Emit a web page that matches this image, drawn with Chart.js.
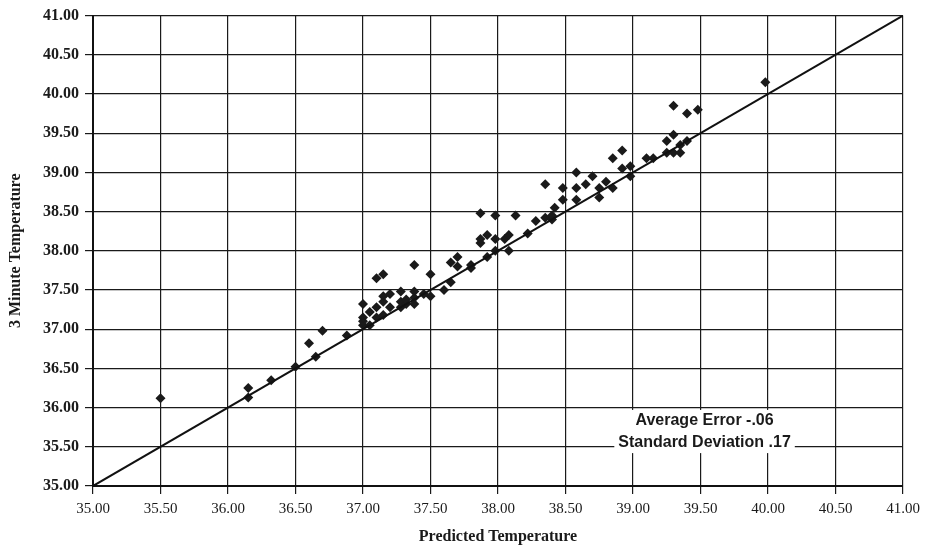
<!DOCTYPE html>
<html>
<head>
<meta charset="utf-8">
<script src="https://cdn.jsdelivr.net/npm/chart.js@4.4.0/dist/chart.umd.min.js"></script>
<style>
  html, body { margin: 0; padding: 0; background: #fff; }
  #wrap { width: 931px; height: 548px; }
</style>
</head>
<body>
<div id="wrap"><canvas id="c" width="931" height="548"></canvas></div>
<script>
const predicted = [
  35.50, 36.15, 36.15, 36.32, 36.50, 36.60, 36.65, 36.70, 36.88,
  37.00, 37.00, 37.00, 37.00, 37.05, 37.05, 37.10, 37.10, 37.10,
  37.15, 37.15, 37.15, 37.15, 37.20, 37.20, 37.28, 37.28, 37.28,
  37.32, 37.32, 37.38, 37.38, 37.38, 37.38, 37.45, 37.50, 37.50,
  37.60, 37.65, 37.65, 37.70, 37.70, 37.80, 37.80, 37.87, 37.87,
  37.87, 37.92, 37.92, 37.98, 37.98, 37.98, 38.05, 38.08, 38.08,
  38.13, 38.22, 38.28, 38.35, 38.35, 38.40, 38.40, 38.42, 38.48,
  38.48, 38.58, 38.58, 38.58, 38.65, 38.70, 38.75, 38.75, 38.80,
  38.85, 38.85, 38.92, 38.92, 38.98, 38.98, 39.10, 39.15, 39.25,
  39.25, 39.30, 39.30, 39.30, 39.35, 39.35, 39.40, 39.40, 39.48,
  39.98
];
const measured = [
  36.12, 36.13, 36.25, 36.35, 36.52, 36.82, 36.65, 36.98, 36.92,
  37.05, 37.10, 37.15, 37.32, 37.05, 37.22, 37.15, 37.28, 37.65,
  37.18, 37.35, 37.42, 37.70, 37.28, 37.45, 37.28, 37.35, 37.48,
  37.32, 37.38, 37.32, 37.40, 37.48, 37.82, 37.45, 37.42, 37.70,
  37.50, 37.60, 37.85, 37.80, 37.92, 37.78, 37.82, 38.10, 38.15,
  38.48, 37.92, 38.20, 38.00, 38.15, 38.45, 38.15, 38.00, 38.20,
  38.45, 38.22, 38.38, 38.42, 38.85, 38.40, 38.45, 38.55, 38.65,
  38.80, 38.65, 38.80, 39.00, 38.85, 38.95, 38.68, 38.80, 38.88,
  38.80, 39.18, 39.05, 39.28, 38.95, 39.08, 39.18, 39.18, 39.25,
  39.40, 39.25, 39.48, 39.85, 39.25, 39.35, 39.40, 39.75, 39.80,
  40.15
];
// the y = x reference line
const lineX = [35, 41];
const lineY = [35, 41];
const axisMin = 35, axisMax = 41, axisStep = 0.5;
const notes = ['Average Error -.06', 'Standard Deviation .17'];
const noteAt = { x: 39.53, y: [35.83, 35.56] };

const points = predicted.map((p, i) => ({ x: p, y: measured[i] }));
const diag = lineX.map((v, i) => ({ x: v, y: lineY[i] }));

const notePlugin = {
  id: 'notes',
  afterDatasetsDraw(chart) {
    const ctx = chart.ctx;
    const xs = chart.scales.x, ys = chart.scales.y;
    ctx.save();
    ctx.font = 'bold 16px "Liberation Sans", Arial, sans-serif';
    ctx.textAlign = 'center';
    ctx.textBaseline = 'middle';
    notes.forEach((t, i) => {
      const cx = xs.getPixelForValue(noteAt.x);
      const cy = ys.getPixelForValue(noteAt.y[i]);
      const w = ctx.measureText(t).width;
      ctx.fillStyle = '#fff';
      ctx.fillRect(cx - w / 2 - 4, cy - 11, w + 8, 22);
      ctx.fillStyle = '#1a1a1a';
      ctx.fillText(t, cx, cy);
    });
    ctx.restore();
  }
};

const gridOpts = {
  color: '#1a1a1a',
  lineWidth: 1.2,
  tickLength: 8,
  tickColor: '#1a1a1a'
};
const serif = '"Liberation Serif", "Times New Roman", serif';

new Chart(document.getElementById('c'), {
  type: 'scatter',
  data: {
    datasets: [
      {
        type: 'line',
        data: diag,
        borderColor: '#111',
        borderWidth: 2,
        pointRadius: 0,
        fill: false
      },
      {
        data: points,
        pointStyle: 'rectRot',
        pointRadius: 5,
        backgroundColor: '#1a1a1a',
        borderColor: '#1a1a1a',
        borderWidth: 0
      }
    ]
  },
  options: {
    responsive: false,
    animation: false,
    layout: { padding: { left: 0, right: 28, top: 15, bottom: 0 } },
    plugins: { legend: { display: false }, tooltip: { enabled: false } },
    scales: {
      x: {
        type: 'linear',
        min: axisMin, max: axisMax,
        afterFit(s) { s.height = 62; },
        border: { color: '#111', width: 2 },
        grid: gridOpts,
        ticks: {
          stepSize: axisStep,
          padding: 6,
          color: '#1a1a1a',
          font: { family: serif, size: 15 },
          callback: v => v.toFixed(2)
        },
        title: {
          display: true,
          text: 'Predicted Temperature',
          color: '#1a1a1a',
          font: { family: serif, size: 16, weight: 'bold' },
          padding: { top: 0, bottom: 2 }
        }
      },
      y: {
        type: 'linear',
        min: axisMin, max: axisMax,
        afterFit(s) { s.width = 93; },
        border: { color: '#111', width: 2 },
        grid: gridOpts,
        ticks: {
          stepSize: axisStep,
          padding: 6,
          color: '#1a1a1a',
          font: { family: serif, size: 16, weight: 'bold' },
          callback: v => v.toFixed(2)
        },
        title: {
          display: true,
          text: '3 Minute Temperature',
          color: '#1a1a1a',
          font: { family: serif, size: 16, weight: 'bold' },
          padding: { top: 6, bottom: 0 }
        }
      }
    }
  },
  plugins: [notePlugin]
});
</script>
</body>
</html>
